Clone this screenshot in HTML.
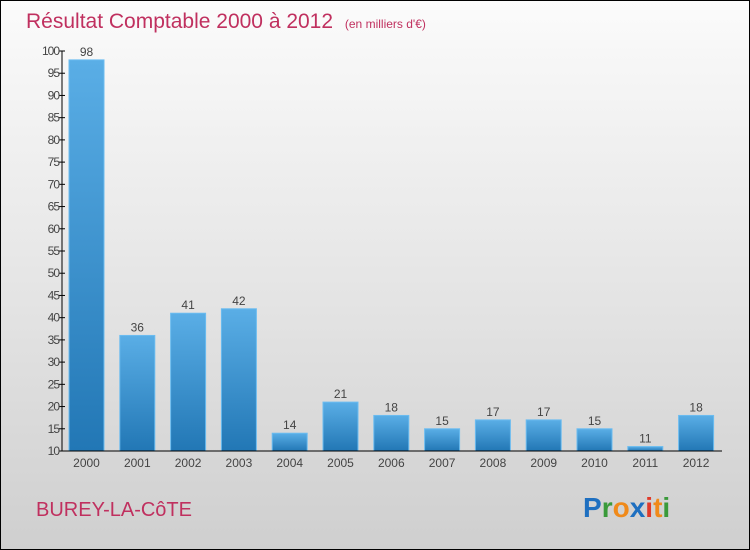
<!DOCTYPE html>
<html><head><meta charset="utf-8"><style>
body{margin:0}
#c{width:748px;height:548px;border:1px solid #000;background:linear-gradient(#fbfbfb,#e6e6e6 50%,#cfcfcf);position:relative;overflow:hidden;font-family:"Liberation Sans",sans-serif}
</style></head><body>
<div id="c">
<svg id="s" width="748" height="548">
<defs><linearGradient id="g" x1="0" y1="0" x2="0" y2="1"><stop offset="0" stop-color="#5aaee6"/><stop offset="1" stop-color="#2277b5"/></linearGradient></defs>
<text x="25" y="27" font-size="21" fill="#c0305f">Résultat Comptable 2000 à 2012 <tspan font-size="12" dx="6">(en milliers d'€)</tspan></text>
<text x="35" y="515" font-size="20" fill="#c0305f">BUREY-LA-CôTE</text>
<text x="582" y="516" font-size="28" font-weight="bold"><tspan fill="#1e6fc0">P</tspan><tspan fill="#3a9a3a">r</tspan><tspan fill="#f08a1a">o</tspan><tspan fill="#1e6fc0">x</tspan><tspan fill="#e03a2a">i</tspan><tspan fill="#f08a1a">t</tspan><tspan fill="#3a9a3a">i</tspan></text>
<g id="plot"></g>
</svg>
</div>
<script>
const years=["2000","2001","2002","2003","2004","2005","2006","2007","2008","2009","2010","2011","2012"];
const values=[98,36,41,42,14,21,18,15,17,17,15,11,18];
const ticks=[10,15,20,25,30,35,40,45,50,55,60,65,70,75,80,85,90,95,100];
const NS="http://www.w3.org/2000/svg";
const g=document.getElementById("plot");
const y=v=>450-(v-10)*400/90;
const x=i=>85.5+i*50.8;
function el(t,a){const e=document.createElementNS(NS,t);for(const k in a)e.setAttribute(k,a[k]);g.appendChild(e);return e;}
values.forEach((v,i)=>{
 const r=el("rect",{x:x(i)-17.5,y:y(v),width:35,height:450-y(v),fill:"url(#g)",stroke:"#6bbcf0","stroke-width":1});
 
 
 const t=el("text",{x:x(i),y:y(v)-4,"text-anchor":"middle","font-size":12,fill:"#444"});t.textContent=v;
 
 
 const xl=el("text",{x:x(i),y:466,"text-anchor":"middle","font-size":12,fill:"#444"});xl.textContent=years[i];
 
 
});
ticks.forEach(v=>{
 const l=el("line",{x1:58,x2:64,y1:y(v),y2:y(v),stroke:"#000"});
 
 
 const t=el("text",{x:58,y:y(v)+4,"text-anchor":"end","font-size":12,fill:"#444","letter-spacing":"-1"});t.textContent=v;
 
 
});
const ya=el("line",{x1:61,x2:61,y1:50,y2:450,stroke:"#000"});


const xa=el("line",{x1:61,x2:721,y1:450,y2:450,stroke:"#000"});


</script>
</body></html>
